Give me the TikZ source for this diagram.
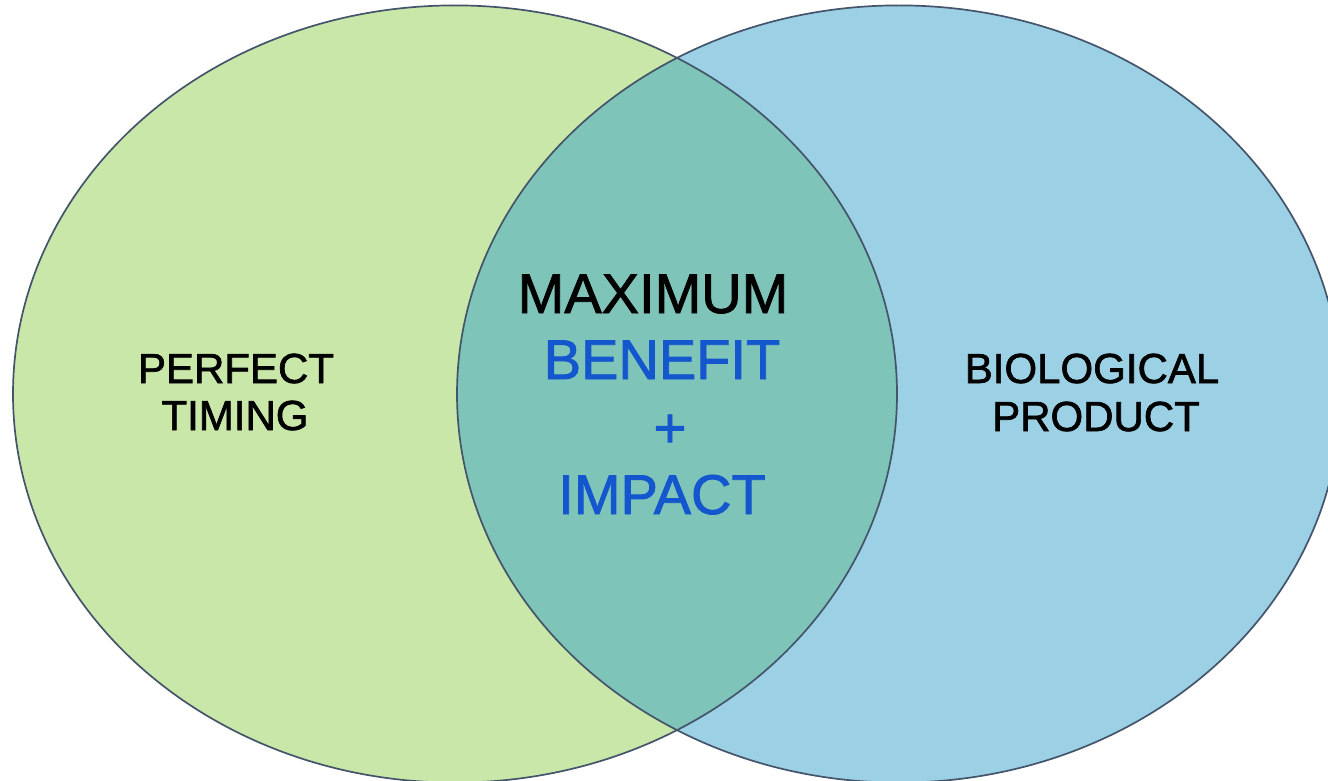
\documentclass[tikz,border=0pt]{standalone}
\usepackage{fontspec}
\setmainfont{Liberation Sans}
\definecolor{lgreen}{RGB}{202,231,170}
\definecolor{lblue}{RGB}{156,209,229}
\definecolor{overlapc}{RGB}{126,196,185}
\definecolor{edgec}{RGB}{68,84,106}
\definecolor{textblue}{RGB}{20,86,206}
\tikzset{
  setedge/.style={draw=edgec, line width=1.7pt},
  sidelbl/.style={anchor=base, inner sep=0pt, font=\fontsize{42}{47}\selectfont\addfontfeature{FakeBold=1.6}, text=black},
  midlbl/.style={anchor=base, inner sep=0pt, font=\fontsize{56}{67}\selectfont\addfontfeature{FakeBold=1.5}},
}
\begin{document}
\begin{tikzpicture}[x=1pt,y=-1pt]
\useasboundingbox (0,0) rectangle (1328,781);
\begin{scope}
\clip (0,0) rectangle (1328,781);
\fill[lgreen] (455,394) ellipse [x radius=442, y radius=388.6];
\fill[lblue] (899,394) ellipse [x radius=442, y radius=388.6];
\begin{scope}
\clip (455,394) ellipse [x radius=442, y radius=388.6];
\fill[overlapc] (899,394) ellipse [x radius=442, y radius=388.6];
\end{scope}
\draw[setedge] (455,394) ellipse [x radius=442, y radius=388.6];
\draw[setedge] (899,394) ellipse [x radius=442, y radius=388.6];
\end{scope}
\node[sidelbl] (perfect) at (236,383) {PERFECT};
\node[sidelbl] (timing) at (235,430) {TIMING};
\node[sidelbl] (bio) at (1092,383) {BIOLOGICAL};
\node[sidelbl] (product) at (1096,431) {PRODUCT};
\node[midlbl, text=black] (maximum) at (653,313) {MAXIMUM};
\node[midlbl, text=textblue] (benefit) at (662,379) {BENEFIT};
\node[midlbl, text=textblue] (plus) at (670,447) {+};
\node[midlbl, text=textblue] (impact) at (662,514) {IMPACT};
\end{tikzpicture}
\end{document}
